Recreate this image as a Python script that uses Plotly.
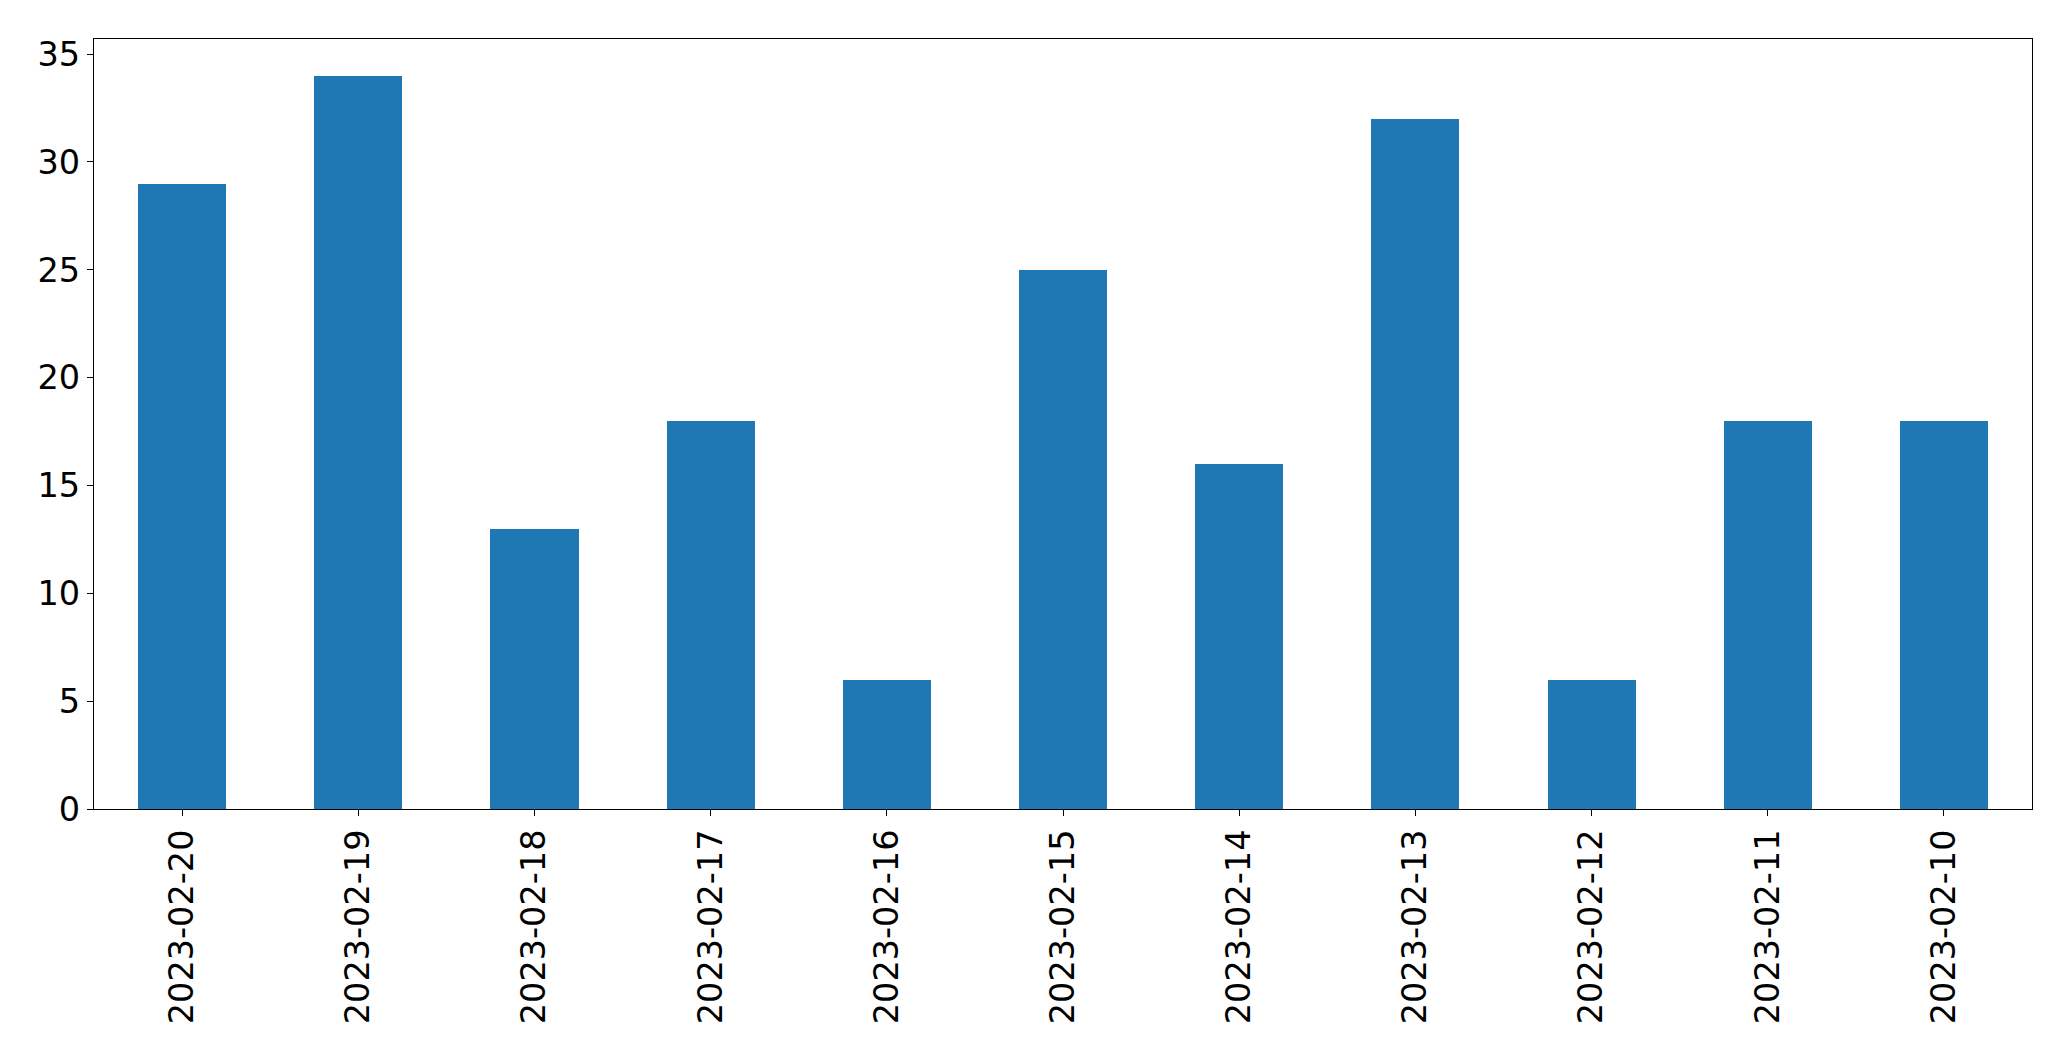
import plotly.graph_objects as go

dates = ["2023-02-20", "2023-02-19", "2023-02-18", "2023-02-17", "2023-02-16",
         "2023-02-15", "2023-02-14", "2023-02-13", "2023-02-12", "2023-02-11",
         "2023-02-10"]
counts = [29, 34, 13, 18, 6, 25, 16, 32, 6, 18, 18]
y_ticks = [0, 5, 10, 15, 20, 25, 30, 35]

fig = go.Figure(go.Bar(x=dates, y=counts, marker_color="#1f77b4",
                       marker_line_width=0, width=0.5))

fig.update_layout(
    width=2071, height=1061,
    margin=dict(l=94, r=39, t=39, b=252),
    paper_bgcolor="white", plot_bgcolor="white",
    font=dict(family="DejaVu Sans", size=33.5, color="black"),
    showlegend=False,
    bargap=0,
)
fig.update_xaxes(type="category", range=[-0.5, 10.5], tickangle=-90,
                 showline=True, linecolor="black", linewidth=1.3, mirror=True,
                 ticks="outside", ticklen=6, tickwidth=1.3, tickcolor="black",
                 showgrid=False, zeroline=False)
fig.update_yaxes(range=[0, 35.7], tickvals=y_ticks,
                 showline=True, linecolor="black", linewidth=1.3, mirror=True,
                 ticks="outside", ticklen=6, tickwidth=1.3, tickcolor="black",
                 showgrid=False, zeroline=False)

fig.write_html("out.html")
